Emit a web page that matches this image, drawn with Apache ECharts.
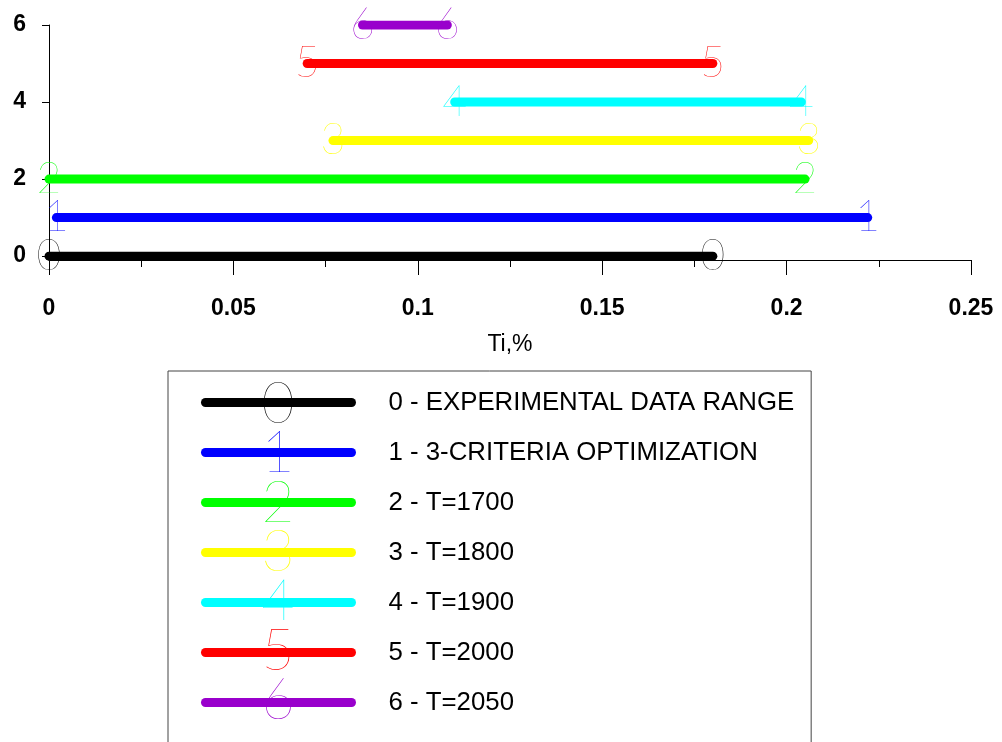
<!DOCTYPE html>
<html>
<head>
<meta charset="utf-8">
<title>Ti ranges</title>
<script src="https://cdn.jsdelivr.net/npm/echarts@6/dist/echarts.min.js"></script>
<style>
  html, body { margin: 0; padding: 0; background: #fff; }
  #chart { width: 1002px; height: 742px; }
</style>
</head>
<body>
<div id="chart"></div>
<script>
// Curve numbers drawn at both ends of every range
const curveIds = ['0', '1', '2', '3', '4', '5', '6'];
const curveNames = [
  '0 - EXPERIMENTAL DATA RANGE',
  '1 - 3-CRITERIA OPTIMIZATION',
  '2 - T=1700',
  '3 - T=1800',
  '4 - T=1900',
  '5 - T=2000',
  '6 - T=2050'
];
// Row of each range on the vertical axis
const levels = [0, 1, 2, 3, 4, 5, 6];
// Ti,% range limits
const rangeLow = [0, 0.002, 0, 0.077, 0.11, 0.07, 0.085];
const rangeHigh = [0.18, 0.222, 0.205, 0.206, 0.204, 0.18, 0.108];
const curveColors = ['#000000', '#0000ff', '#00ff00', '#ffff00', '#00ffff', '#ff0000', '#9900cc'];
const yTicks = [0, 2, 4, 6];

const axisFont = 'Liberation Sans, Arial, sans-serif';
const digitFont = 'Lato, Roboto, sans-serif';

const series = curveIds.map((id, i) => ({
  name: curveNames[i],
  type: 'line',
  color: curveColors[i],
  data: [[rangeLow[i], levels[i]], [rangeHigh[i], levels[i]]],
  symbol: 'circle',
  symbolSize: 1,
  showSymbol: true,
  itemStyle: { color: 'rgba(0,0,0,0)', borderWidth: 0 },
  lineStyle: { color: curveColors[i], width: 9, cap: 'round' },
  label: {
    show: true,
    position: 'inside',
    formatter: () => id,
    color: curveColors[i],
    fontFamily: digitFont,
    fontWeight: 200,
    fontSize: 43
  },
  emphasis: { disabled: true },
  animation: false
}));

const richDigits = {};
curveIds.forEach((id, i) => {
  richDigits['d' + i] = {
    color: curveColors[i],
    fontFamily: digitFont,
    fontWeight: 200,
    fontSize: 57,
    lineHeight: 40,
    width: 40,
    align: 'center'
  };
});

const chart = echarts.init(document.getElementById('chart'), null, { renderer: 'canvas' });
chart.setOption({
  backgroundColor: '#ffffff',
  animation: false,
  grid: { left: 49, right: 31, top: 25, bottom: 482, containLabel: false },
  xAxis: {
    type: 'value',
    min: 0,
    max: 0.25,
    interval: 0.05,
    name: 'Ti,%',
    nameLocation: 'middle',
    nameGap: 73,
    nameTextStyle: { fontFamily: axisFont, fontSize: 23, color: '#000' },
    axisLine: { show: true, onZero: false, lineStyle: { color: '#000', width: 1 } },
    axisTick: { show: true, length: 15, lineStyle: { color: '#000' } },
    minorTick: { show: true, splitNumber: 2, length: 7, lineStyle: { color: '#000' } },
    splitLine: { show: false },
    axisLabel: {
      margin: 37,
      fontFamily: axisFont,
      fontWeight: 'bold',
      fontSize: 23,
      color: '#000'
    }
  },
  yAxis: {
    type: 'value',
    min: -0.1,
    max: 6,
    axisLine: { show: true, onZero: false, lineStyle: { color: '#000', width: 1 } },
    axisTick: { show: true, length: 7, customValues: yTicks, lineStyle: { color: '#000' } },
    splitLine: { show: false },
    axisLabel: {
      customValues: yTicks,
      margin: 23,
      fontFamily: axisFont,
      fontWeight: 'bold',
      fontSize: 23,
      color: '#000'
    }
  },
  legend: [
    {
      data: curveNames,
      orient: 'vertical',
      left: 168,
      top: 371,
      height: 460,
      padding: [18.5, 17, 60, 33],
      itemWidth: 146,
      itemHeight: 26,
      itemGap: 24,
      borderColor: '#444',
      borderWidth: 1,
      selectedMode: false,
      lineStyle: { width: 9, cap: 'round' },
      itemStyle: { color: 'rgba(0,0,0,0)', borderWidth: 0 },
      textStyle: {
        fontFamily: axisFont,
        fontSize: 25.8,
        lineHeight: 26,
        color: '#000',
        padding: [0, 0, 0, 32]
      }
    },
    {
      // curve numbers laid over the legend lines
      data: curveNames,
      orient: 'vertical',
      left: 251,
      top: 376,
      height: 700,
      padding: 0,
      z: 6,
      icon: 'rect',
      itemWidth: 2,
      itemHeight: 2,
      itemGap: -7.6,
      selectedMode: false,
      itemStyle: { color: 'rgba(0,0,0,0)', borderWidth: 0, opacity: 0 },
      formatter: name => {
        const i = curveNames.indexOf(name);
        return '{d' + i + '|' + curveIds[i] + '}';
      },
      textStyle: { rich: richDigits }
    }
  ],
  series: series
});
</script>
</body>
</html>
